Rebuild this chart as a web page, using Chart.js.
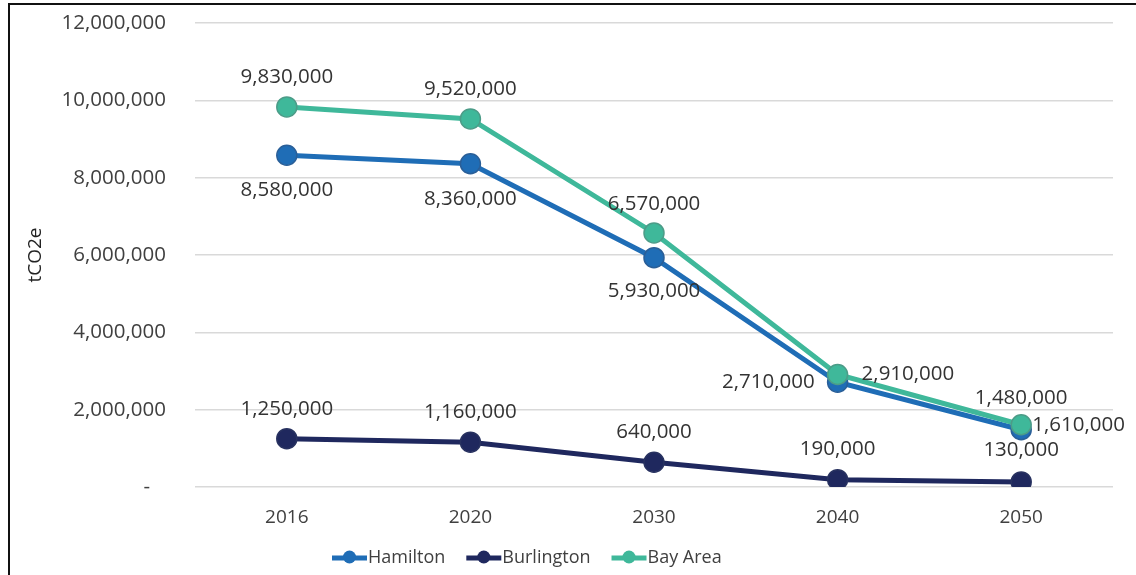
<!DOCTYPE html>
<html>
<head>
<meta charset="utf-8">
<script src="https://cdn.jsdelivr.net/npm/chart.js@4.4.1/dist/chart.umd.min.js"></script>
<style>
  html, body { margin: 0; padding: 0; background: #fff; }
  #wrap { position: relative; width: 1136px; height: 575px; overflow: hidden; }
  #frame { position: absolute; top: 3px; left: 8px; right: -4px; bottom: -4px;
           border-top: 2px solid #111; border-left: 2px solid #111; pointer-events: none; }
</style>
</head>
<body>
<div id="wrap">
  <canvas id="emisiones" width="1136" height="575"></canvas>
  <div id="frame"></div>
</div>
<script>
// datos
var anios = ['2016', '2020', '2030', '2040', '2050'];
var hamilton = [8580000, 8360000, 5930000, 2710000, 1480000];
var burlington = [1250000, 1160000, 640000, 190000, 130000];
var bayArea = [9830000, 9520000, 6570000, 2910000, 1610000];
var ejeMin = 0, ejeMax = 12000000, ejePaso = 2000000;

// donde va cada etiqueta respecto al punto (dx, dy, alineacion)
var posHamilton = [[0, 35, 'center'], [0, 35, 'center'], [0, 33, 'center'], [-23, 0, 'right'], [0, -32, 'center']];
var posBurlington = [[0, -30, 'center'], [0, -30, 'center'], [0, -30, 'center'], [0, -30, 'center'], [0, -32, 'center']];
var posBay = [[0, -30, 'center'], [0, -30, 'center'], [0, -29, 'center'], [24, 0, 'left'], [11, 0, 'left']];

var fuente = '"Open Sans", "DejaVu Sans", sans-serif';
var gris = '#404040';

function formato(v) {
    return v.toLocaleString('en-US');
}

var etiquetasPlugin = {
    id: 'etiquetas',
    afterDatasetsDraw: function(chart) {
        var ctx = chart.ctx;
        ctx.save();
        ctx.font = '20.5px ' + fuente;
        ctx.fillStyle = '#333';
        ctx.textBaseline = 'middle';
        chart.data.datasets.forEach(function(ds, i) {
            var meta = chart.getDatasetMeta(i);
            meta.data.forEach(function(pt, j) {
                var p = ds.posEtiquetas[j];
                ctx.textAlign = p[2];
                ctx.fillText(formato(ds.data[j]), pt.x + p[0], pt.y + p[1]);
            });
        });
        ctx.restore();
    }
};

var leyendaPlugin = {
    id: 'leyenda',
    afterDraw: function(chart) {
        var ctx = chart.ctx;
        ctx.save();
        ctx.font = '18px ' + fuente;
        ctx.textBaseline = 'middle';
        ctx.textAlign = 'left';
        var x = 332, y = 558;
        [0, 1, 2].forEach(function(i) {
            var ds = chart.data.datasets[i];
            ctx.strokeStyle = ds.borderColor;
            ctx.lineWidth = 5;
            ctx.beginPath();
            ctx.moveTo(x, y);
            ctx.lineTo(x + 35, y);
            ctx.stroke();
            ctx.fillStyle = ds.borderColor;
            ctx.beginPath();
            ctx.arc(x + 17.5, y - 1, 6.5, 0, Math.PI * 2);
            ctx.fill();
            ctx.fillStyle = gris;
            ctx.fillText(ds.label, x + 36, y);
            x += 36 + ctx.measureText(ds.label).width + 21;
        });
        ctx.restore();
    }
};

function serie(nombre, datos, color, borde, pos, orden) {
    return {
        label: nombre,
        data: datos,
        borderColor: color,
        backgroundColor: color,
        borderWidth: 5,
        pointRadius: 10,
        pointHoverRadius: 10,
        pointBackgroundColor: color,
        pointBorderColor: borde,
        pointBorderWidth: 1.5,
        tension: 0,
        order: orden,
        posEtiquetas: pos
    };
}

var ctx = document.getElementById('emisiones').getContext('2d');
var grafico = new Chart(ctx, {
    type: 'line',
    data: {
        labels: anios,
        datasets: [
            serie('Hamilton', hamilton, '#1f6db6', '#2a5f98', posHamilton, 2),
            serie('Burlington', burlington, '#1f285e', '#283260', posBurlington, 1),
            serie('Bay Area', bayArea, '#3fb89a', '#4c9c88', posBay, 0)
        ]
    },
    options: {
        responsive: false,
        animation: false,
        layout: { padding: { left: 10, right: 23, top: 23, bottom: 0 } },
        plugins: {
            legend: { display: false },
            tooltip: { enabled: false },
            title: { display: false }
        },
        scales: {
            x: {
                offset: true,
                grid: { display: false, drawTicks: false },
                border: { display: false },
                ticks: { color: gris, font: { family: fuente, size: 19 }, padding: 19 },
                afterFit: function(s) { s.height = 88; }
            },
            y: {
                min: ejeMin,
                max: ejeMax,
                grid: { color: '#d9d9d9', lineWidth: 1.5, drawTicks: true, tickLength: 29, tickColor: 'rgba(0,0,0,0)' },
                border: { display: false },
                ticks: {
                    stepSize: ejePaso,
                    color: gris,
                    padding: 0,
                    font: { family: fuente, size: 20.5 },
                    callback: function(v) { return v === 0 ? '-   ' : formato(v); }
                },
                title: {
                    display: true,
                    text: 'tCO2e',
                    color: '#222',
                    font: { family: fuente, size: 19 },
                    padding: { top: 14, bottom: 0 }
                },
                afterFit: function(s) { s.width = 185; }
            }
        }
    },
    plugins: [etiquetasPlugin, leyendaPlugin]
});
</script>
</body>
</html>
